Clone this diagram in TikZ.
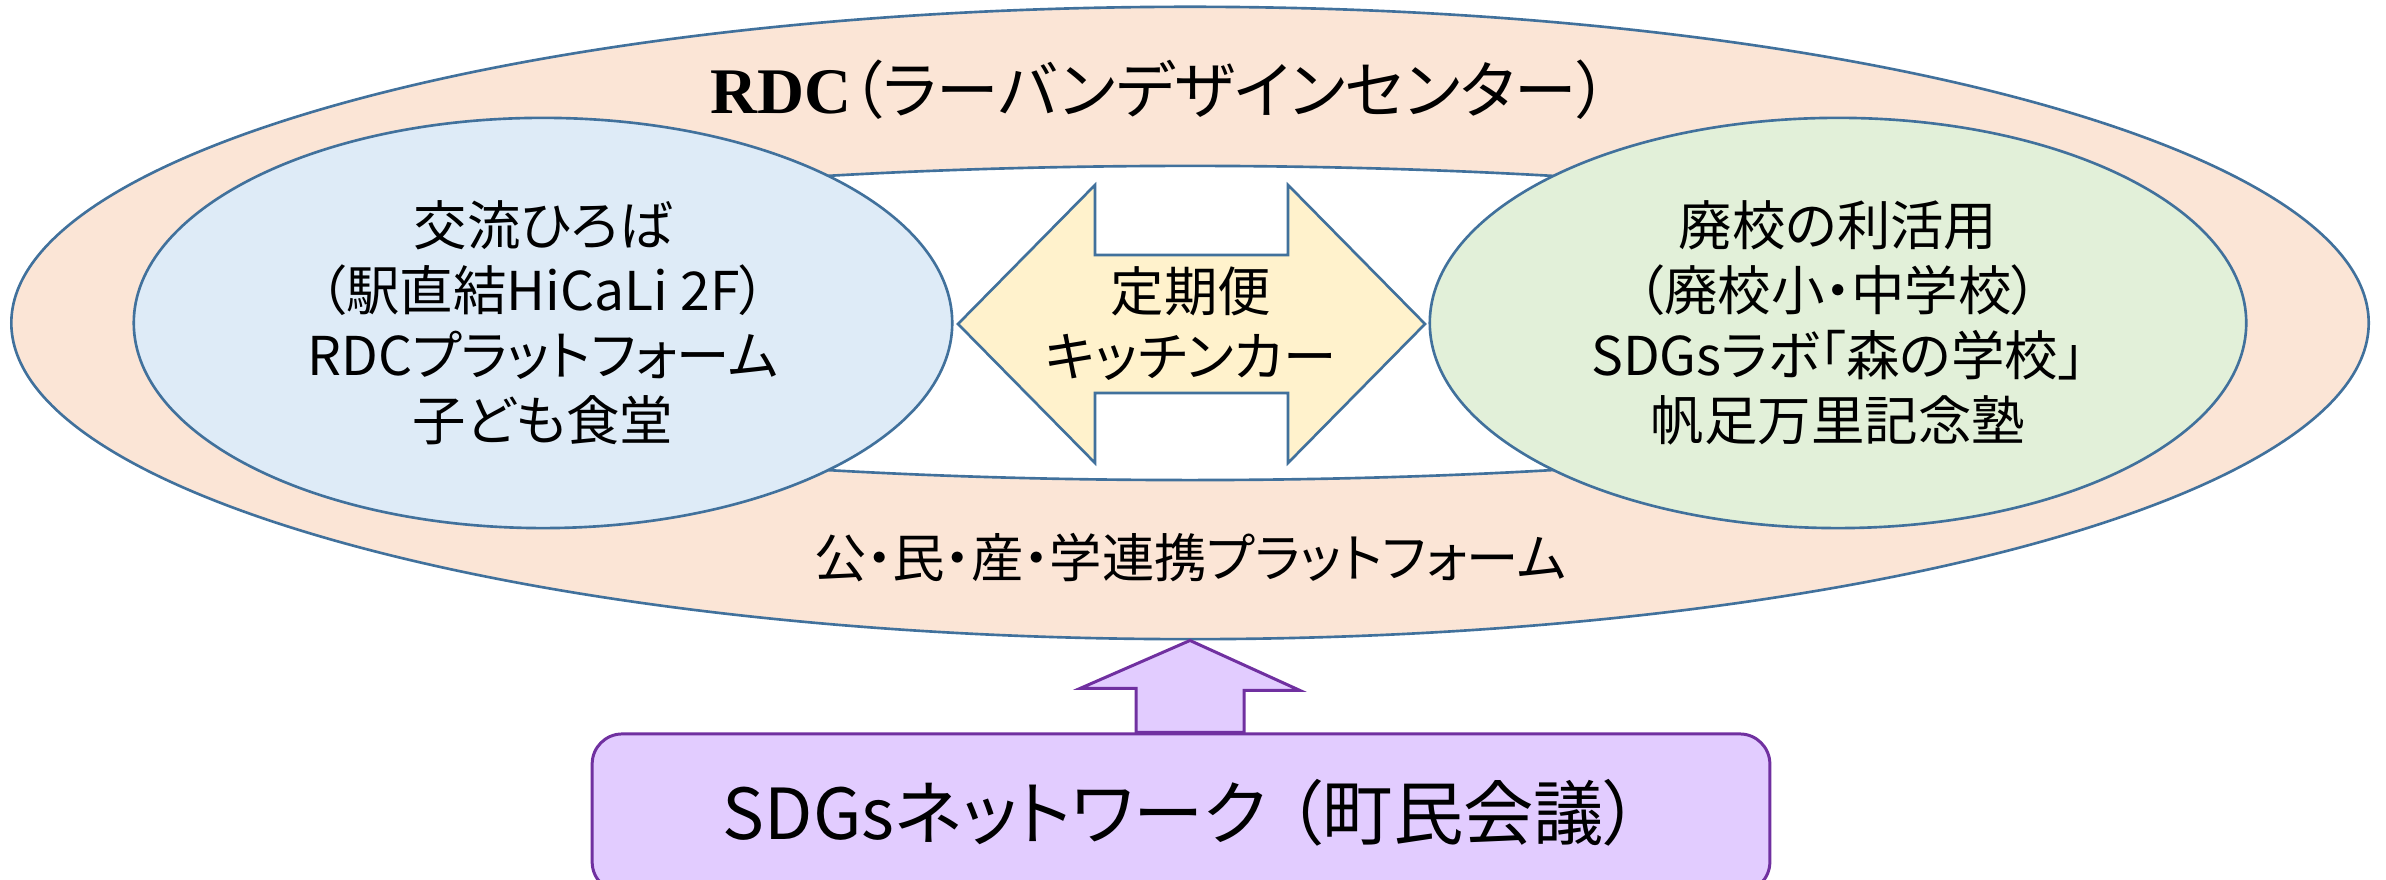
\documentclass[tikz,border=0pt]{standalone}
\usepackage{fontspec}
\setmainfont{Noto Sans CJK JP}[RawFeature=+palt]
\newfontfamily\serifbold{Liberation Serif}
\usetikzlibrary{shapes.geometric,calc}
\definecolor{rimblue}{HTML}{41719C}
\definecolor{peach}{HTML}{FBE5D6}
\definecolor{paleblue}{HTML}{DEEBF7}
\definecolor{palegreen}{HTML}{E2F0D9}
\definecolor{paleyellow}{HTML}{FFF2CC}
\definecolor{lavender}{HTML}{E2CCFF}
\definecolor{netpurple}{HTML}{7030A0}
\tikzset{
  ring/.style={ellipse, draw=rimblue, line width=0.75pt, inner sep=0pt},
  bodytext/.style={align=center, font=\fontsize{15.2}{18.5}\selectfont},
  fatarrow/.style={draw=rimblue, line width=0.75pt, fill=paleyellow},
  netarrow/.style={draw=netpurple, line width=0.85pt, fill=lavender},
}
\begin{document}
\begin{tikzpicture}[x=0.01cm, y=0.01cm]
  \useasboundingbox (0,0) rectangle (2386,880);
  \node[ring, fill=peach, minimum width=23.56cm, minimum height=6.32cm] (rdc) at (1190,557) {};
  \node[ring, fill=white, minimum width=20.6cm, minimum height=3.14cm] (hub) at (1190,557) {};
  % kitchen car, both ways
  \coordinate (bus) at (1191,556);
  \draw[fatarrow] ($(bus)+(-233,0)$) -- ++(137,139) -- ++(0,-70) -- ++(193,0) -- ++(0,70)
    -- ++(137,-139) -- ++(-137,-139) -- ++(0,70) -- ++(-193,0) -- ++(0,-70) -- cycle;
  \node[bodytext] (kitchen) at (bus) {定期便\\キッチンカー};
  \node[ring, fill=paleblue, minimum width=8.18cm, minimum height=4.10cm, bodytext] (plaza) at (543,557)
    {交流ひろば\\（駅直結HiCaLi 2F）\\RDCプラットフォーム\\子ども食堂};
  \node[ring, fill=palegreen, minimum width=8.16cm, minimum height=4.10cm, bodytext] (school) at (1838,557)
    {廃校の利活用\\（廃校小・中学校）\\SDGsラボ「森の学校」\\帆足万里記念塾};
  \node[anchor=west, inner sep=0pt, font=\fontsize{17.8}{19}\selectfont] (title) at (710,790)
    {{\serifbold\fontsize{18.5}{19}\selectfont\bfseries RDC}（ラーバンデザインセンター）};
  \node[font=\fontsize{14.9}{16}\selectfont] (platform) at (1190,322) {公・民・産・学連携プラットフォーム};
  % network box and its arrow up
  \node[draw=netpurple, fill=lavender, line width=0.85pt, rounded corners=0.3cm,
    minimum width=11.77cm, minimum height=1.58cm, font=\fontsize{20}{21}\selectfont] (network) at (1181,67)
    {SDGsネットワーク\hspace{0.3em}（町民会議）};
  \coordinate (shaftL) at ($(rdc.south)+(-54,0)$);
  \coordinate (shaftR) at ($(rdc.south)+(54,0)$);
  \draw[netarrow] (rdc.south) -- ++(110,-50) -- ++(-56,0) -- (shaftR |- network.north)
    -- (shaftL |- network.north) -- ++(0,44) -- ++(-56,0) -- cycle;
\end{tikzpicture}
\end{document}
